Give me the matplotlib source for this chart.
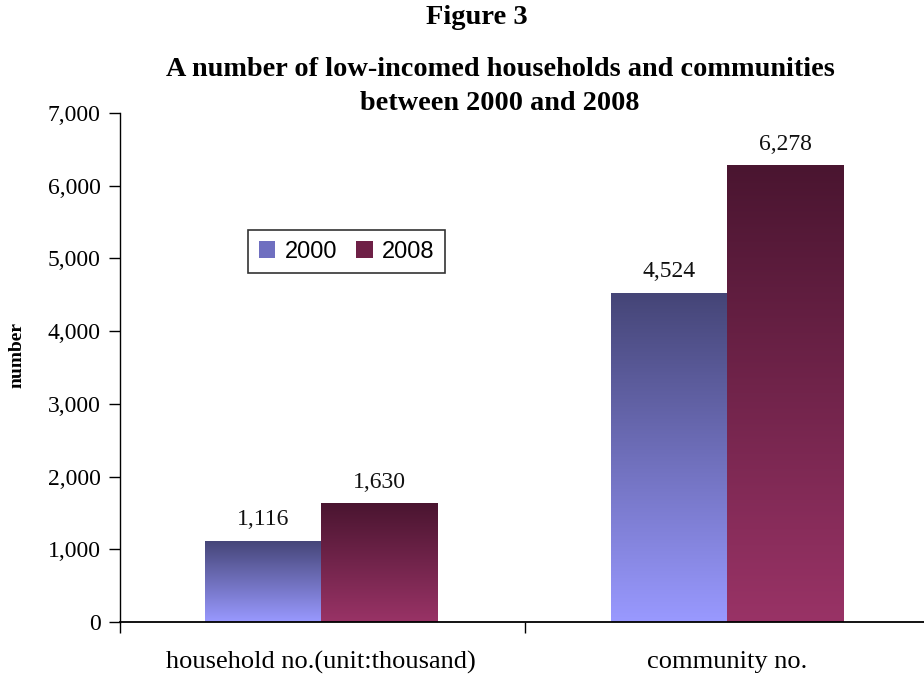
import matplotlib
matplotlib.use("Agg")
import matplotlib.pyplot as plt
import numpy as np
from matplotlib.colors import LinearSegmentedColormap
from matplotlib.patches import Patch

categories = ["household no.(unit:thousand)", "community no."]
series_names = ["2000", "2008"]
values_2000 = [1116, 4524]
values_2008 = [1630, 6278]
yticks = [0, 1000, 2000, 3000, 4000, 5000, 6000, 7000]

top_colors = ["#454577", "#4a1530"]
bottom_colors = ["#9999ff", "#993366"]

fig = plt.figure(figsize=(9.24, 6.77), dpi=100)
W, H = 924, 677
left, right, top, bottom = 120, 924, 113, 622
ax = fig.add_axes([left / W, 1 - bottom / H, (right - left) / W, (bottom - top) / H])

x = np.arange(len(categories))
bw = 0.286
serif = "Liberation Serif"
grad = np.linspace(0, 1, 256).reshape(-1, 1)

for i, (vals, name) in enumerate(zip([values_2000, values_2008], series_names)):
    offs = -bw / 2 if i == 0 else bw / 2
    bars = ax.bar(x + offs, vals, bw, facecolor="none", edgecolor="none", zorder=2)
    cmap = LinearSegmentedColormap.from_list("g%d" % i, [top_colors[i], bottom_colors[i]])
    for b, v in zip(bars, vals):
        x0, y0 = b.get_x(), b.get_y()
        im = ax.imshow(grad, cmap=cmap, aspect="auto", origin="upper",
                       extent=[x0, x0 + b.get_width(), y0, y0 + b.get_height()], zorder=2)
        im.set_clip_path(b)
        ax.annotate(f"{v:,}", (x0 + b.get_width() / 2, v), xytext=(0, 11.5),
                    textcoords="offset points", ha="center", va="baseline",
                    fontsize=17, family=serif, color="#111111")

ax.set_xlim(-0.495, 1.485)
ax.set_ylim(0, 7000)
ax.set_yticks(yticks)
ax.set_yticklabels([f"{t:,}" for t in yticks], family=serif, fontsize=17)
ax.set_xticks([-0.495, 0.502])
ax.set_xticklabels([])
ax.set_xticks(x, minor=True)
ax.set_xticklabels(categories, minor=True, family=serif, fontsize=19)
ax.tick_params(axis="x", which="minor", length=0, pad=21)
ax.tick_params(axis="x", which="major", length=8, direction="out", width=1)
ax.tick_params(axis="y", length=8, direction="out", width=1, pad=6)
for s in ["top", "right"]:
    ax.spines[s].set_visible(False)
ax.spines["left"].set_linewidth(1)
ax.spines["bottom"].set_linewidth(1.3)
ax.set_ylabel("number", family=serif, fontsize=14, fontweight="bold")
ax.yaxis.set_label_coords((26 - left) / (right - left), (bottom - 355) / (bottom - top))

handles = [Patch(facecolor="#6f6fc0", edgecolor="none"), Patch(facecolor="#6e2046", edgecolor="none")]
leg = ax.legend(handles, series_names, loc="upper left",
                bbox_to_anchor=((248 - left) / (right - left), 1 - (230 - top) / (bottom - top)),
                ncol=2, frameon=True, fancybox=False, edgecolor="black",
                prop={"family": "Liberation Sans", "size": 17}, handlelength=0.7, handleheight=0.7,
                columnspacing=0.8, handletextpad=0.4, borderpad=0.45, borderaxespad=0)
leg.get_frame().set_linewidth(1.2)

fig.text(477 / W, 1 - 18 / H, "Figure 3", ha="center", va="center", family=serif,
         fontsize=20.5, fontweight="bold")
fig.text(500 / W, 1 - 69 / H, "A number of low-incomed households and communities",
         ha="center", va="center", family=serif, fontsize=20.3, fontweight="bold")
fig.text(500 / W, 1 - 104 / H, "between 2000 and 2008",
         ha="center", va="center", family=serif, fontsize=20.3, fontweight="bold")

fig.savefig("out.png", dpi=100)
